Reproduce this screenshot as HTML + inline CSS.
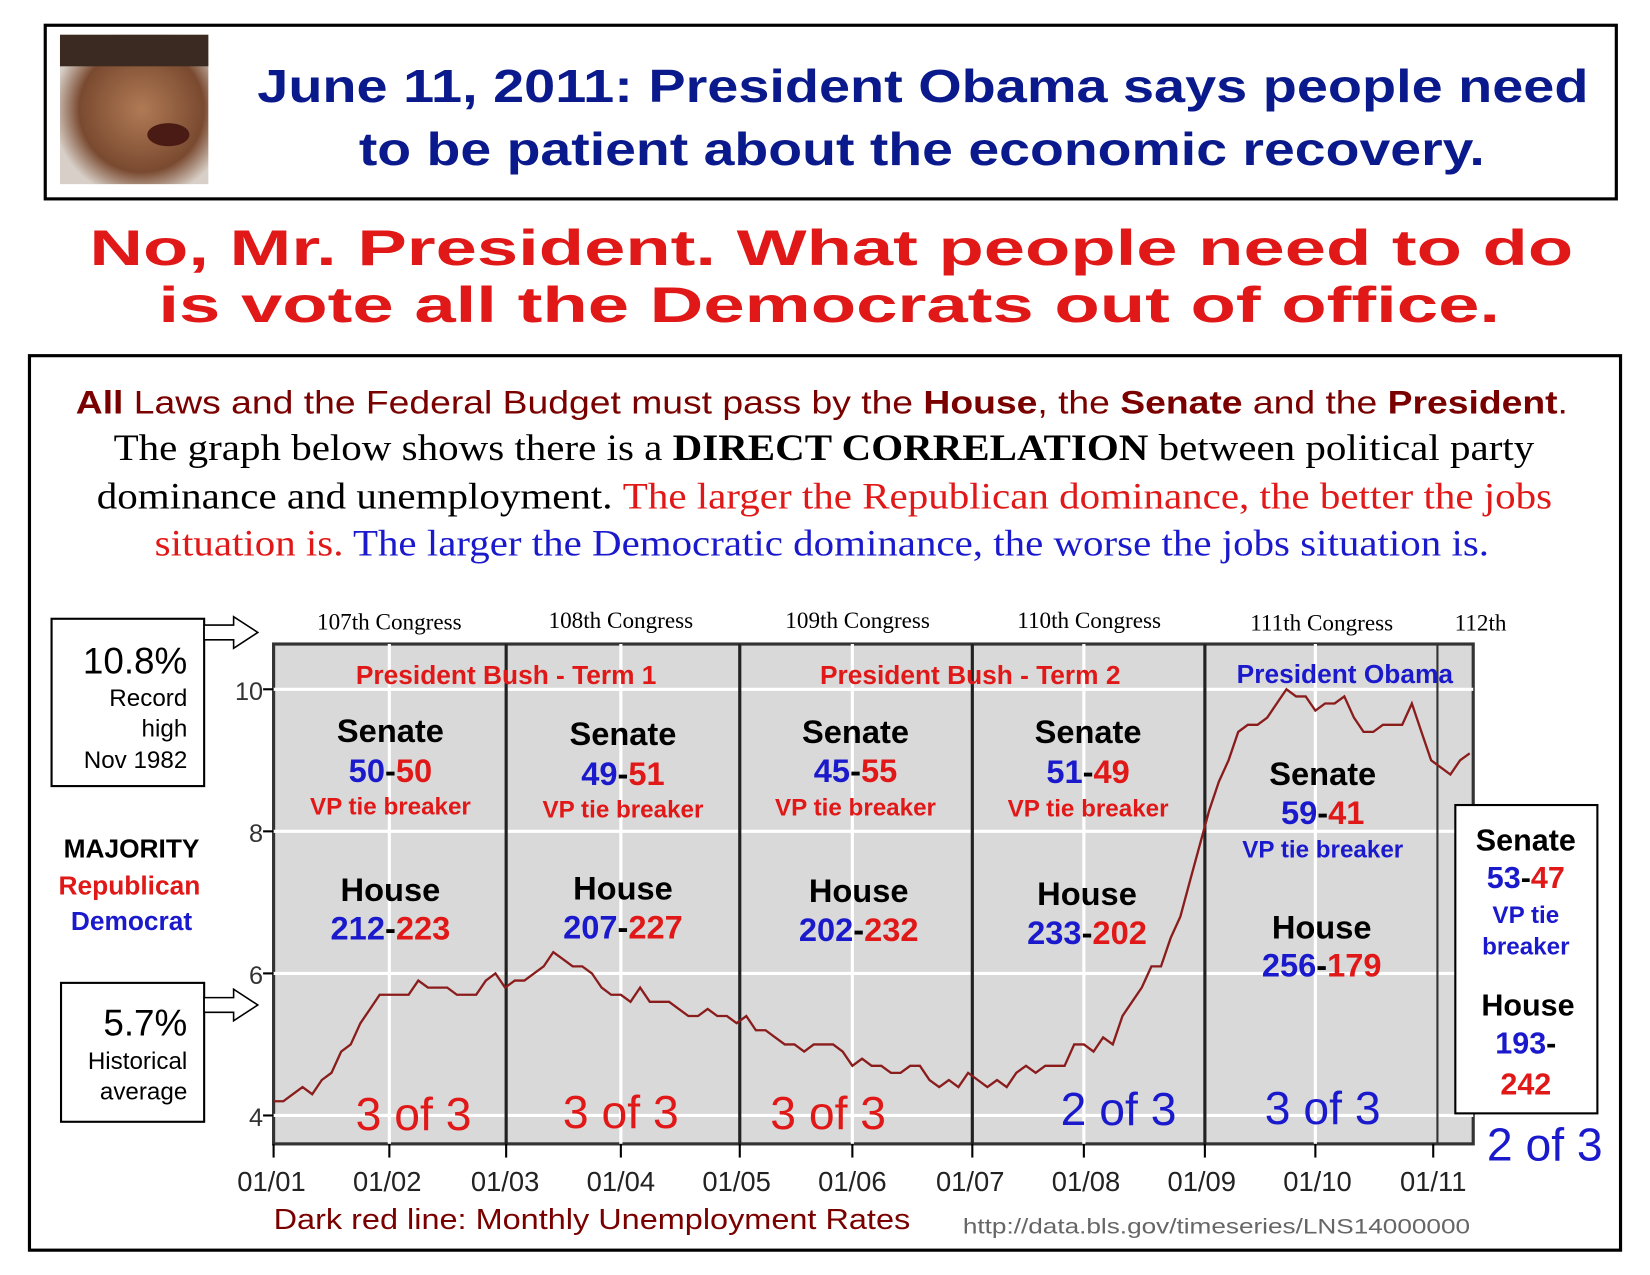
<!DOCTYPE html>
<html><head><meta charset="utf-8"><style>html,body{margin:0;padding:0;background:#fff}svg{display:block}</style></head>
<body>
<svg id="s" xmlns="http://www.w3.org/2000/svg" width="1650" height="1275" viewBox="0 0 1568 1211.6" preserveAspectRatio="none" font-family="Liberation Sans, sans-serif">
<rect width="1568" height="1212" fill="#fff"/>
<rect x="43" y="24" width="1493" height="165" fill="none" stroke="#000" stroke-width="3"/>
<defs><radialGradient id="f" cx="0.55" cy="0.5" r="0.6"><stop offset="0" stop-color="#b07a55"/><stop offset="0.7" stop-color="#7a4a30"/><stop offset="1" stop-color="#d8d0c8"/></radialGradient></defs>
<rect x="57" y="33" width="141" height="142" fill="url(#f)"/>
<rect x="57" y="33" width="141" height="30" fill="#3a2a22"/>
<ellipse cx="160" cy="128" rx="20" ry="11" fill="#4a1a14"/>
<text x="877" y="97" text-anchor="middle" font-size="44" font-weight="bold" fill="#0a1a8c" textLength="1265" lengthAdjust="spacingAndGlyphs">June 11, 2011: President Obama says people need</text>
<text x="876" y="157" text-anchor="middle" font-size="44" font-weight="bold" fill="#0a1a8c" textLength="1070" lengthAdjust="spacingAndGlyphs">to be patient about the economic recovery.</text>
<text x="790" y="252" text-anchor="middle" font-size="48" font-weight="bold" fill="#e01818" textLength="1410" lengthAdjust="spacingAndGlyphs">No, Mr. President. What people need to do</text>
<text x="788" y="306" text-anchor="middle" font-size="48" font-weight="bold" fill="#e01818" textLength="1275" lengthAdjust="spacingAndGlyphs">is vote all the Democrats out of office.</text>
<rect x="28" y="338" width="1512" height="850" fill="none" stroke="#000" stroke-width="3"/>
<text x="72" y="393" font-size="31" fill="#7a0000" textLength="1418" lengthAdjust="spacingAndGlyphs"><tspan font-weight="bold">All</tspan><tspan fill="#7a0000"> Laws and the Federal Budget must pass by the </tspan><tspan font-weight="bold">House</tspan>, the <tspan font-weight="bold">Senate</tspan> and the <tspan font-weight="bold">President</tspan>.</text>
<g font-family="Liberation Serif, serif" font-size="35">
<text x="108" y="437" textLength="1350" lengthAdjust="spacingAndGlyphs">The graph below shows there is a <tspan font-weight="bold">DIRECT CORRELATION</tspan> between political party</text>
<text x="92" y="483" textLength="1383" lengthAdjust="spacingAndGlyphs">dominance and unemployment. <tspan fill="#e01818">The larger the Republican dominance, the better the jobs</tspan></text>
<text x="147" y="528" textLength="1268" lengthAdjust="spacingAndGlyphs"><tspan fill="#e01818">situation is.</tspan><tspan fill="#1a1acc"> The larger the Democratic dominance, the worse the jobs situation is.</tspan></text>
<g font-size="22">
<text x="370" y="598" text-anchor="middle">107th Congress</text>
<text x="590" y="597" text-anchor="middle">108th Congress</text>
<text x="815" y="597" text-anchor="middle">109th Congress</text>
<text x="1035" y="597" text-anchor="middle">110th Congress</text>
<text x="1256" y="599" text-anchor="middle">111th Congress</text>
<text x="1407" y="599" text-anchor="middle">112th</text>
</g></g>
<rect x="260" y="612" width="1140" height="475" fill="#d9d9d9" stroke="#333" stroke-width="3"/>
<g stroke="#fff" stroke-width="3">
<line x1="260" x2="1400" y1="655" y2="655"/><line x1="260" x2="1400" y1="790" y2="790"/><line x1="260" x2="1400" y1="925" y2="925"/><line x1="260" x2="1400" y1="1060" y2="1060"/>
<line x1="370" x2="370" y1="612" y2="1087"/><line x1="590" x2="590" y1="612" y2="1087"/><line x1="810" x2="810" y1="612" y2="1087"/><line x1="1030" x2="1030" y1="612" y2="1087"/><line x1="1250" x2="1250" y1="612" y2="1087"/>
</g>
<g stroke="#222" stroke-width="3"><line x1="481" x2="481" y1="612" y2="1087"/><line x1="703" x2="703" y1="612" y2="1087"/><line x1="924" x2="924" y1="612" y2="1087"/><line x1="1145" x2="1145" y1="612" y2="1087"/></g>
<line x1="1366" x2="1366" y1="612" y2="1087" stroke="#333" stroke-width="2"/>
<g stroke="#000" stroke-width="2"><line x1="260" x2="260" y1="1087" y2="1100"/><line x1="370" x2="370" y1="1087" y2="1100"/><line x1="481" x2="481" y1="1087" y2="1100"/><line x1="590" x2="590" y1="1087" y2="1100"/><line x1="703" x2="703" y1="1087" y2="1100"/><line x1="810" x2="810" y1="1087" y2="1100"/><line x1="924" x2="924" y1="1087" y2="1100"/><line x1="1030" x2="1030" y1="1087" y2="1100"/><line x1="1145" x2="1145" y1="1087" y2="1100"/><line x1="1250" x2="1250" y1="1087" y2="1100"/><line x1="1362" x2="1362" y1="1087" y2="1100"/>
<line x1="250" x2="260" y1="655" y2="655"/><line x1="250" x2="260" y1="790" y2="790"/><line x1="250" x2="260" y1="925" y2="925"/><line x1="250" x2="260" y1="1060" y2="1060"/></g>
<g font-size="24" fill="#333" text-anchor="end"><text x="250" y="665">10</text><text x="250" y="800">8</text><text x="250" y="935">6</text><text x="250" y="1070">4</text></g>
<g font-size="26" fill="#222" text-anchor="middle"><text x="258" y="1132">01/01</text><text x="368" y="1132">01/02</text><text x="480" y="1132">01/03</text><text x="590" y="1132">01/04</text><text x="700" y="1132">01/05</text><text x="810" y="1132">01/06</text><text x="922" y="1132">01/07</text><text x="1032" y="1132">01/08</text><text x="1142" y="1132">01/09</text><text x="1252" y="1132">01/10</text><text x="1362" y="1132">01/11</text></g>
<polyline id="ln" fill="none" stroke="#8a1c1c" stroke-width="2.2" points=""/>
<g font-weight="bold" text-anchor="middle">
<g font-size="25" fill="#e01818"><text x="481" y="650">President Bush - Term 1</text><text x="922" y="650">President Bush - Term 2</text></g>
<text x="1278" y="649" font-size="25" fill="#1a1acc">President Obama</text>
<g font-size="31"><text x="371" y="705">Senate</text><text x="592" y="708">Senate</text><text x="813" y="706">Senate</text><text x="1034" y="706">Senate</text><text x="1257" y="746">Senate</text>
<text x="371" y="856">House</text><text x="592" y="855">House</text><text x="816" y="857">House</text><text x="1033" y="860">House</text><text x="1256" y="892">House</text></g>
<g font-size="31"><text x="371" y="743"><tspan fill="#1a1acc">50</tspan>-<tspan fill="#e01818">50</tspan></text><text x="592" y="746"><tspan fill="#1a1acc">49</tspan>-<tspan fill="#e01818">51</tspan></text><text x="813" y="743"><tspan fill="#1a1acc">45</tspan>-<tspan fill="#e01818">55</tspan></text><text x="1034" y="744"><tspan fill="#1a1acc">51</tspan>-<tspan fill="#e01818">49</tspan></text><text x="1257" y="783"><tspan fill="#1a1acc">59</tspan>-<tspan fill="#e01818">41</tspan></text>
<text x="371" y="893"><tspan fill="#1a1acc">212</tspan>-<tspan fill="#e01818">223</tspan></text><text x="592" y="892"><tspan fill="#1a1acc">207</tspan>-<tspan fill="#e01818">227</tspan></text><text x="816" y="894"><tspan fill="#1a1acc">202</tspan>-<tspan fill="#e01818">232</tspan></text><text x="1033" y="897"><tspan fill="#1a1acc">233</tspan>-<tspan fill="#e01818">202</tspan></text><text x="1256" y="928"><tspan fill="#1a1acc">256</tspan>-<tspan fill="#e01818">179</tspan></text></g>
<g font-size="23" fill="#e01818"><text x="371" y="774">VP tie breaker</text><text x="592" y="777">VP tie breaker</text><text x="813" y="775">VP tie breaker</text><text x="1034" y="776">VP tie breaker</text></g>
<text x="1257" y="815" font-size="23" fill="#1a1acc">VP tie breaker</text>
</g>
<g font-size="44" text-anchor="middle"><text x="393" y="1074" fill="#e01818">3 of 3</text><text x="590" y="1072" fill="#e01818">3 of 3</text><text x="787" y="1073" fill="#e01818">3 of 3</text><text x="1063" y="1069" fill="#1a1acc">2 of 3</text><text x="1257" y="1068" fill="#1a1acc">3 of 3</text><text x="1468" y="1103" fill="#1a1acc">2 of 3</text></g>
<text x="260" y="1168" font-size="27" fill="#7a0000" textLength="605" lengthAdjust="spacingAndGlyphs">Dark red line: Monthly Unemployment Rates</text>
<text x="915" y="1172" font-size="20" fill="#666" textLength="482" lengthAdjust="spacingAndGlyphs">http://data.bls.gov/timeseries/LNS14000000</text>
<rect x="49" y="588" width="145" height="159" fill="#fff" stroke="#000" stroke-width="2"/>
<text x="178" y="640" font-size="35" text-anchor="end">10.8%</text>
<g font-size="23" text-anchor="end"><text x="178" y="671">Record</text><text x="178" y="700">high</text><text x="178" y="730">Nov 1982</text></g>
<rect x="58" y="934" width="136" height="132" fill="#fff" stroke="#000" stroke-width="2"/>
<text x="178" y="984" font-size="35" text-anchor="end">5.7%</text>
<g font-size="23" text-anchor="end"><text x="178" y="1016">Historical</text><text x="178" y="1045">average</text></g>
<path d="M194 594 H222 V586 L245 601 L222 616 V608 H194 Z" fill="#fff" stroke="#000" stroke-width="1.5"/>
<path d="M194 948 H222 V940 L245 955 L222 970 V962 H194 Z" fill="#fff" stroke="#000" stroke-width="1.5"/>
<g font-size="25" font-weight="bold" text-anchor="middle"><text x="125" y="815">MAJORITY</text><text x="123" y="850" fill="#e01818">Republican</text><text x="125" y="884" fill="#1a1acc">Democrat</text></g>
<rect x="1383" y="765" width="135" height="293" fill="#fff" stroke="#000" stroke-width="2"/>
<g font-weight="bold" text-anchor="middle"><text x="1450" y="808" font-size="29">Senate</text><text x="1450" y="844" font-size="29"><tspan fill="#1a1acc">53</tspan>-<tspan fill="#e01818">47</tspan></text><text x="1450" y="877" font-size="23" fill="#1a1acc">VP tie</text><text x="1450" y="907" font-size="23" fill="#1a1acc">breaker</text><text x="1452" y="965" font-size="29">House</text><text x="1450" y="1001" font-size="29"><tspan fill="#1a1acc">193</tspan>-</text><text x="1450" y="1040" font-size="29" fill="#e01818">242</text></g>
</svg>
<script>
var d=[4.2,4.2,4.3,4.4,4.3,4.5,4.6,4.9,5.0,5.3,5.5,5.7,5.7,5.7,5.7,5.9,5.8,5.8,5.8,5.7,5.7,5.7,5.9,6.0,5.8,5.9,5.9,6.0,6.1,6.3,6.2,6.1,6.1,6.0,5.8,5.7,5.7,5.6,5.8,5.6,5.6,5.6,5.5,5.4,5.4,5.5,5.4,5.4,5.3,5.4,5.2,5.2,5.1,5.0,5.0,4.9,5.0,5.0,5.0,4.9,4.7,4.8,4.7,4.7,4.6,4.6,4.7,4.7,4.5,4.4,4.5,4.4,4.6,4.5,4.4,4.5,4.4,4.6,4.7,4.6,4.7,4.7,4.7,5.0,5.0,4.9,5.1,5.0,5.4,5.6,5.8,6.1,6.1,6.5,6.8,7.3,7.8,8.3,8.7,9.0,9.4,9.5,9.5,9.6,9.8,10.0,9.9,9.9,9.7,9.8,9.8,9.9,9.6,9.4,9.4,9.5,9.5,9.5,9.8,9.4,9.0,8.9,8.8,9.0,9.1];
var p=[];for(var i=0;i<d.length;i++){var x=260+i*110/12,y=1060-(d[i]-4)*67.5;p.push(x.toFixed(1)+','+y.toFixed(1));}
document.getElementById('ln').setAttribute('points',p.join(' '));
</script>
</body></html>
